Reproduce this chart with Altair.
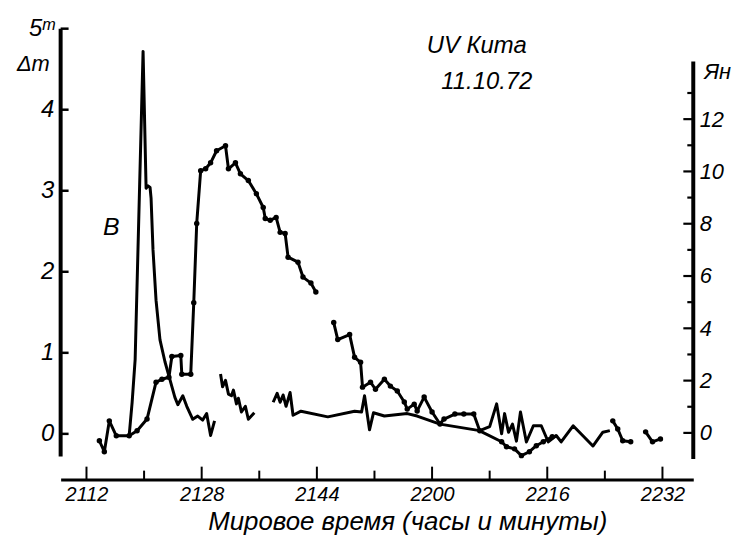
import altair as alt
import pandas as pd

# ---------------- data (time = minutes after 21h UT) ----------------
# optical flare, B band, Δm (left axis) – three drawn segments
opt_t1 = [17.93, 18.34, 18.76, 19.86, 20.28, 20.55, 20.83, 20.97, 21.24, 21.66, 22.21, 22.90,
          23.59, 24.28, 24.69, 25.38, 25.93, 26.76, 27.45, 28.14, 28.69, 29.24, 29.79]
opt_m1 = [-0.02, 0.39, 0.92, 4.72, 3.03, 3.06, 3.04, 2.91, 2.27, 1.65, 1.16, 0.89,
          0.67, 0.45, 0.36, 0.47, 0.34, 0.18, 0.22, 0.17, 0.25, -0.02, 0.16]
opt_t2 = [30.62, 30.90, 31.31, 31.72, 32.14, 32.41, 32.83, 33.10, 33.52, 34.07, 34.48, 35.31]
opt_m2 = [0.74, 0.58, 0.66, 0.49, 0.47, 0.54, 0.37, 0.44, 0.27, 0.34, 0.18, 0.26]
opt_t3 = [37.93, 38.48, 38.90, 39.31, 39.72, 40.28, 40.69, 41.79, 45.52, 49.24, 50.21, 50.62,
          51.31, 51.86, 53.38, 56.55, 57.93, 61.10, 66.62, 68.00, 68.97, 69.66, 70.07, 70.62,
          71.17, 71.72, 72.28, 73.10, 74.07, 75.17, 76.14, 77.24, 77.93, 79.59, 82.34, 83.72, 84.69]
opt_m3 = [0.39, 0.50, 0.39, 0.48, 0.34, 0.51, 0.23, 0.28, 0.21, 0.28, 0.27, 0.47,
          0.05, 0.26, 0.22, 0.25, 0.22, 0.12, 0.04, 0.09, 0.37, 0.00, 0.25, 0.02,
          0.12, -0.09, 0.27, -0.10, 0.10, 0.10, -0.10, -0.02, -0.10, 0.10, -0.15, 0.02, 0.04]

# radio flux, Jy (right axis) – four drawn segments
rad_t1 = [13.79, 14.48, 15.17, 16.14, 17.93, 19.03, 20.41, 21.66, 22.48, 23.45, 23.86, 25.10,
          25.24, 26.48, 26.90, 27.31, 27.86, 28.55, 29.24, 30.07, 31.31, 31.72, 32.69, 33.38,
          34.48, 35.59, 36.55, 36.83, 37.52, 38.34, 38.90, 39.59, 40.00, 41.38, 42.07, 43.17, 43.86]
rad_j1 = [-0.30, -0.72, 0.46, -0.11, -0.11, 0.08, 0.53, 1.94, 2.05, 2.13, 2.92, 2.96,
          2.24, 2.24, 4.98, 8.01, 10.03, 10.10, 10.33, 10.79, 10.98, 10.10, 10.33, 9.91,
          9.65, 9.15, 8.62, 8.20, 8.13, 8.24, 7.67, 7.63, 6.72, 6.53, 5.96, 5.73, 5.39]
rad_t2 = [46.34, 46.90, 48.55, 49.24, 50.07, 50.34, 51.45, 52.14, 53.38, 54.21, 55.17, 56.14,
          56.55, 57.52, 57.93, 58.90, 60.00, 61.10, 61.66, 63.17, 64.41, 65.79, 66.62, 69.66,
          70.34, 71.45, 72.41, 73.52, 74.48, 75.45, 76.69]
rad_j2 = [4.22, 3.57, 3.76, 2.89, 2.70, 1.75, 1.94, 1.67, 2.05, 1.79, 1.60, 1.18,
          0.91, 1.10, 0.84, 1.37, 0.80, 0.34, 0.53, 0.72, 0.72, 0.72, 0.08, -0.34,
          -0.53, -0.61, -0.87, -0.72, -0.49, -0.34, -0.15]
rad_t3 = [85.10, 85.79, 86.48, 87.59]
rad_j3 = [0.46, 0.15, -0.30, -0.34]
rad_t4 = [89.66, 90.62, 91.72]
rad_j4 = [0.04, -0.34, -0.23]

# axes
x_major = [12, 28, 44, 60, 76, 92]
x_major_labels = ["2112", "2128", "2144", "2200", "2216", "2232"]
x_minor = [20, 36, 52, 68, 84]
dm_ticks = [0, 1, 2, 3, 4, 5]
jy_major = [0, 2, 4, 6, 8, 10, 12]
jy_minor = [1, 3, 5, 7, 9, 11, 13]
dm_axis_extent = [-0.28, 5.0]
jy_axis_extent = [-1.0, 14.2]

X_DOMAIN = [8.41, 96.28]
DM_DOMAIN = [-0.564, 5.0]
JY_DOMAIN = [-1.785, 15.46]

title_text = "UV Кита"
date_text = "11.10.72"
band_text = "B"
x_title = "Мировое время (часы и минуты)"

# ---------------- build ----------------
W, H = 637, 454
FONT = "Liberation Sans"
INK = "black"


def segs(ts, vs, name):
    rows = []
    for s, (tt, vv) in enumerate(zip(ts, vs)):
        for i, (a, b) in enumerate(zip(tt, vv)):
            rows.append({"t": a, name: b, "seg": s, "i": i})
    return pd.DataFrame(rows)


opt_df = segs([opt_t1, opt_t2, opt_t3], [opt_m1, opt_m2, opt_m3], "dm")
rad_df = segs([rad_t1, rad_t2, rad_t3, rad_t4], [rad_j1, rad_j2, rad_j3, rad_j4], "jy")

xs = alt.Scale(domain=X_DOMAIN, nice=False, zero=False)
dms = alt.Scale(domain=DM_DOMAIN, nice=False, zero=False)
jys = alt.Scale(domain=JY_DOMAIN, nice=False, zero=False)

label_expr = " : ".join(
    f"datum.value == {v} ? '{l}'" for v, l in zip(x_major, x_major_labels)) + " : ''"

X_AXIS = alt.Axis(orient="bottom", values=x_major, labelExpr=label_expr, ticks=False, domain=True,
                  domainWidth=3, domainColor=INK, grid=False,
                  labelFont=FONT, labelFontSize=20, labelFontStyle="italic", labelColor=INK,
                  labelPadding=5, title=x_title, titleFont=FONT, titleFontSize=26,
                  titleFontStyle="italic", titleFontWeight="normal", titleColor=INK,
                  titleX=349, titleY=29, titleAlign="center", titleBaseline="top")

DM_AXIS = alt.Axis(orient="left", values=dm_ticks,
                   labelExpr="datum.value == 5 ? '5ᵐ' : datum.label",
                   ticks=False, domain=False, grid=False, labelPadding=7,
                   labelFont=FONT, labelFontSize=24, labelFontStyle="italic", labelColor=INK,
                   title="Δm", titleAngle=0, titleX=-28, titleY=35, titleAlign="center",
                   titleBaseline="middle", titleFont=FONT, titleFontSize=22,
                   titleFontStyle="italic", titleFontWeight="normal", titleColor=INK)

JY_AXIS = alt.Axis(orient="right", values=jy_major, ticks=False, domain=False, grid=False,
                   labelPadding=6, labelFont=FONT, labelFontSize=22, labelFontStyle="italic",
                   labelColor=INK, title="Ян", titleAngle=0, titleX=24, titleY=43,
                   titleAlign="center", titleBaseline="middle", titleFont=FONT,
                   titleFontSize=22, titleFontStyle="italic", titleFontWeight="normal",
                   titleColor=INK)


def X(field):
    return alt.X(field, scale=xs, axis=X_AXIS)


# ---- Δm (left scale) layers
opt_line = alt.Chart(opt_df).mark_line(color=INK, strokeWidth=3, strokeJoin="round").encode(
    x=X("t:Q"), y=alt.Y("dm:Q", scale=dms, axis=DM_AXIS),
    detail="seg:N", order="i:Q")

left_ticks = alt.Chart(pd.DataFrame({"v": dm_ticks})).mark_rule(color=INK, strokeWidth=2.5).encode(
    y=alt.Y("v:Q", scale=dms, axis=None), x=alt.value(0), x2=alt.value(8))

left_dom = alt.Chart(pd.DataFrame({"lo": [dm_axis_extent[0]], "hi": [dm_axis_extent[1]]})).mark_rule(
    color=INK, strokeWidth=4).encode(
    y=alt.Y("lo:Q", scale=dms, axis=None), y2="hi:Q", x=alt.value(0))

xmaj = alt.Chart(pd.DataFrame({"v": x_major})).mark_rule(color=INK, strokeWidth=2).encode(
    x=X("v:Q"), y=alt.value(H), y2=alt.value(H - 13))
xmin = alt.Chart(pd.DataFrame({"v": x_minor})).mark_rule(color=INK, strokeWidth=2).encode(
    x=X("v:Q"), y=alt.value(H), y2=alt.value(H - 9))


def note(txt, t, dm, size):
    return alt.Chart(pd.DataFrame({"t": [t], "dm": [dm]})).mark_text(
        text=txt, font=FONT, fontSize=size, fontStyle="italic", color=INK,
        align="center", baseline="middle").encode(
        x=X("t:Q"), y=alt.Y("dm:Q", scale=dms, axis=None))


# ---- Jy (right scale) layers
rad_line = alt.Chart(rad_df).mark_line(color=INK, strokeWidth=3, strokeJoin="round").encode(
    x=X("t:Q"), y=alt.Y("jy:Q", scale=jys, axis=JY_AXIS),
    detail="seg:N", order="i:Q")
rad_pts = alt.Chart(rad_df).mark_circle(color=INK, size=30, opacity=1).encode(
    x=X("t:Q"), y=alt.Y("jy:Q", scale=jys, axis=None))
rmaj = alt.Chart(pd.DataFrame({"v": jy_major})).mark_rule(color=INK, strokeWidth=2.2).encode(
    y=alt.Y("v:Q", scale=jys, axis=None), x=alt.value(W - 10), x2=alt.value(W))
rmin = alt.Chart(pd.DataFrame({"v": jy_minor})).mark_rule(color=INK, strokeWidth=2.2).encode(
    y=alt.Y("v:Q", scale=jys, axis=None), x=alt.value(W - 6), x2=alt.value(W))
right_dom = alt.Chart(pd.DataFrame({"lo": [jy_axis_extent[0]], "hi": [jy_axis_extent[1]]})).mark_rule(
    color=INK, strokeWidth=4).encode(
    y=alt.Y("lo:Q", scale=jys, axis=None), y2="hi:Q", x=alt.value(W))

chart = alt.layer(
    opt_line, rad_line, rad_pts, left_ticks, left_dom, xmaj, xmin,
    note(title_text, 66.2, 4.78, 24), note(date_text, 67.6, 4.34, 24),
    note(band_text, 15.45, 2.55, 25),
    rmaj, rmin, right_dom,
).resolve_scale(y="independent").properties(
    width=W, height=H,
    padding={"left": 53, "top": 19, "right": 40, "bottom": 55},
    autosize=alt.AutoSizeParams(type="none"),
    background="white",
).configure_view(stroke=None)

chart.save("out.html", embed_options={"renderer": "svg", "actions": False})
